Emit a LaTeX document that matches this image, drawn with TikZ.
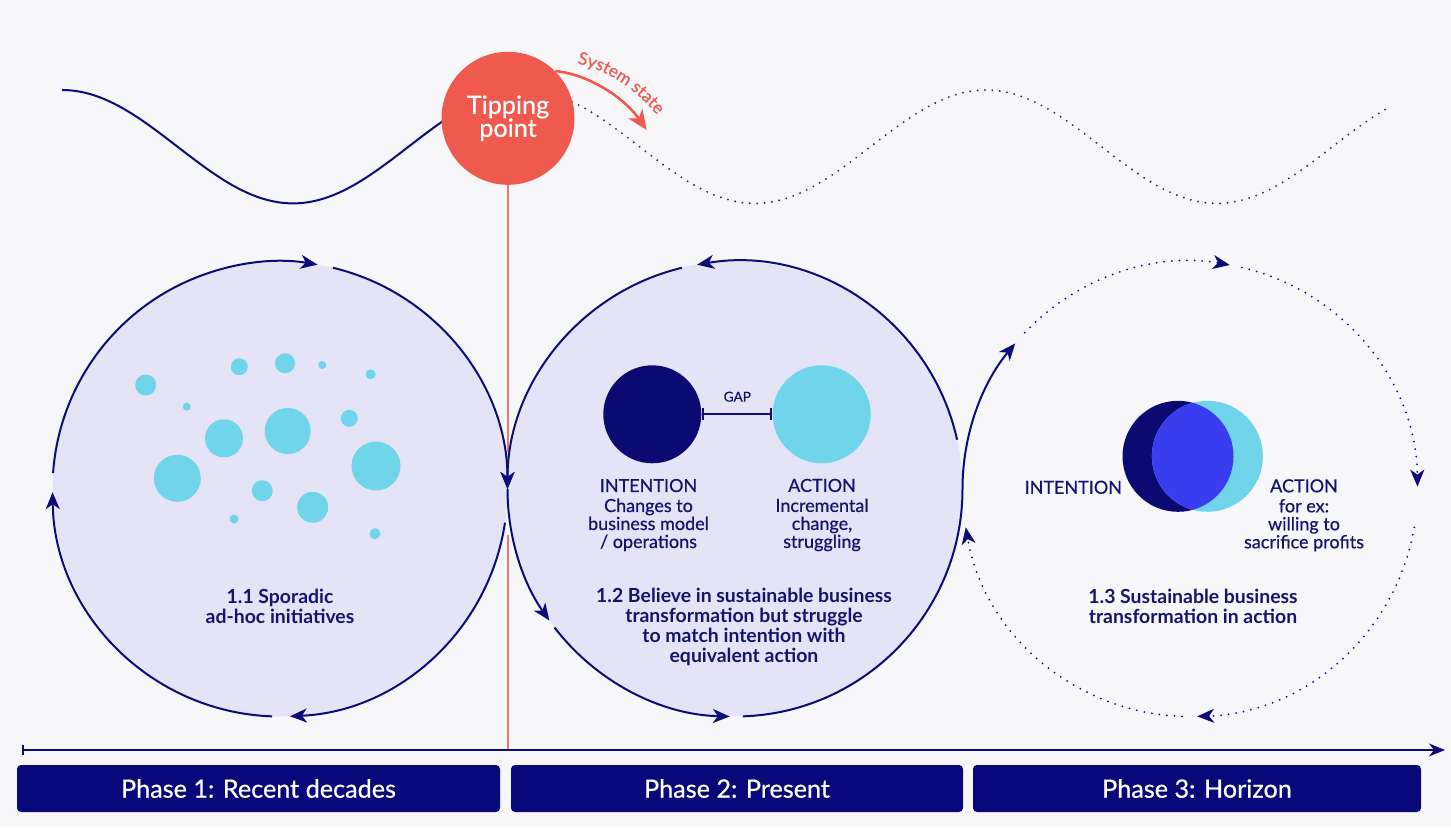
\documentclass[tikz,border=0pt]{standalone}
\usepackage{fontspec}
\setmainfont{Lato}
\newfontfamily\medfont{Lato}[FakeBold=0.6]
\usetikzlibrary{arrows.meta,decorations.text}
\definecolor{bg}{HTML}{F7F7FA}
\definecolor{lav}{HTML}{E4E4F6}
\definecolor{navy}{HTML}{0C0C78}
\definecolor{txtnavy}{HTML}{14146E}
\definecolor{barnavy}{HTML}{08087A}
\definecolor{cyanb}{HTML}{70D4EA}
\definecolor{darkint}{HTML}{0A0A72}
\definecolor{lensblue}{HTML}{3A3CEF}
\definecolor{tipred}{HTML}{F05A4E}
\definecolor{linered}{HTML}{EA7A6C}
\definecolor{dotnavy}{HTML}{2A2A60}
\tikzset{
  loopline/.style={navy, line width=1pt},
  looparrow/.style={navy, line width=1pt, -{Stealth[length=8.5pt,width=7pt,inset=2.5pt]}},
  dotarrow/.style={navy, line width=1pt, line cap=round, dash pattern=on 0pt off 3.8pt, -{Stealth[length=8.5pt,width=7pt,inset=2.5pt]}},
  wavedots/.style={dotnavy, line width=1.05pt, line cap=round, dash pattern=on 0pt off 3.7pt},
  title/.style={text=txtnavy, align=center, font=\bfseries\fontsize{9.7}{10}\selectfont},
  label/.style={text=txtnavy, align=center, font=\medfont\fontsize{9}{9}\selectfont},
  phase/.style={fill=barnavy, rounded corners=2pt, text=white, inner sep=0pt, minimum height=23.5pt, font=\medfont\fontsize{12.6}{14}\selectfont},
  blob/.style={circle, inner sep=0pt},
}
\begin{document}
\begin{tikzpicture}[x=0.5pt,y=0.5pt]
\useasboundingbox (0,0) rectangle (1451,827);
\fill[bg] (0,0) rectangle (1451,827);

% centres
\coordinate (c1) at (280,338);
\coordinate (c2) at (735,338);
\coordinate (c3) at (1190,338);

% big circle fills
\fill[lav] (c1) circle[radius=227.5];
\fill[lav] (c2) circle[radius=227.5];

% sporadic dots
\foreach \px/\py/\r in {145.7/442/10.5, 239.3/460.3/8.5, 285/463.7/10, 322.3/462/4,
  370.7/452.7/5, 186.7/420.3/4, 349.3/408.7/8.5, 224/388.7/19, 287.7/396/23,
  376/361/24.5, 177.3/348.7/23.5, 262.3/336.3/10.5, 312.7/319.7/15.5, 234/308/4.5, 375/293.3/5.5}
  \fill[cyanb] (\px,\py) circle[radius=\r];

% top wave
\draw[navy, line width=1pt] plot[domain=62:445, samples=90, smooth] (\x,{680.3+56.7*cos((\x-62)/231*180)});
\draw[wavedots] plot[domain=572:1390, samples=160, smooth] (\x,{680.3+56.7*cos((\x-62)/231*180)});

% tipping point
\node[circle, fill=tipred, minimum size=66.5pt, inner sep=0pt, text=white, align=center,
  font=\medfont\fontsize{12.6}{11.5}\selectfont] (tip) at (508,708.7) {Tipping\\point};
\coordinate (ss1) at (646.7,697);
\draw[tipred, line width=1.3pt, -{Stealth[length=10pt,width=8.5pt,inset=3pt]}]
  (tip.45) .. controls (592,752) and (626,727) .. (ss1);
\coordinate (sstA) at (566,765);
\coordinate (sstB) at (664,703);
\path[decorate, decoration={text along path, text align=center,
  text={|\medfont\fontsize{8.6}{9}\selectfont\color{tipred}|System state}}]
  (sstA) .. controls (604,762) and (640,736) .. (sstB);

% red vertical line (interrupted at the crossing)
\coordinate (rgapT) at (508,375);
\coordinate (rgapB) at (508,292);
\coordinate (raxis) at (508,77);
\draw[linered, line width=1pt] (tip.south) -- (rgapT);
\draw[linered, line width=1pt] (rgapB) -- (raxis);

% circle 1 (clockwise)
\draw[looparrow] (c1) ++(176:227.5) arc[start angle=176, end angle=80.5, radius=227.5];
\draw[looparrow] (c1) ++(76.5:227.5) arc[start angle=76.5, end angle=0, radius=227.5];
\draw[looparrow] (c1) ++(-8.5:227.5) arc[start angle=-8.5, end angle=-87.5, radius=227.5];
\draw[looparrow] (c1) ++(-92:227.5) arc[start angle=-92, end angle=-179.2, radius=227.5];

% circle 2 (counter-clockwise)
\draw[looparrow] (c2) ++(12.5:227.5) arc[start angle=12.5, end angle=99.6, radius=227.5];
\draw[looparrow] (c2) ++(103.5:227.5) arc[start angle=103.5, end angle=180, radius=227.5];
\draw[looparrow] (c2) ++(180:227.5) arc[start angle=180, end angle=215.3, radius=227.5];
\draw[looparrow] (c2) ++(217.5:227.5) arc[start angle=217.5, end angle=268.7, radius=227.5];
\draw[looparrow] (c2) ++(272:227.5) arc[start angle=272, end angle=360, radius=227.5]
  arc[start angle=180, end angle=140.2, radius=227.5];

% circle 3 (dotted, clockwise)
\draw[dotarrow] (c3) ++(136.6:227.5) arc[start angle=136.6, end angle=79.9, radius=227.5];
\draw[dotarrow] (c3) ++(76.8:227.5) arc[start angle=76.8, end angle=0.6, radius=227.5];
\draw[dotarrow] (c3) ++(-9.7:227.5) arc[start angle=-9.7, end angle=-88.2, radius=227.5];
\draw[dotarrow] (c3) ++(-92:227.5) arc[start angle=-92, end angle=-170.3, radius=227.5];

% texts circle 1
\node[title] (t1) at (280,220.3) {1.1 Sporadic\\ad-hoc initiatives};

% circle 2 content
\node[blob, fill=darkint, minimum size=49pt] (int2) at (652.3,412.7) {};
\node[blob, fill=cyanb, minimum size=49pt] (act2) at (821.7,412.7) {};
\draw[navy, line width=1pt, {Bar[width=6pt]}-{Bar[width=6pt]}] (int2.east) -- (act2.west);
\node[text=txtnavy, font=\medfont\fontsize{6.8}{7}\selectfont] (gap) at (737.3,430.3) {GAP};
\node[label] (int2txt) at (648.5,312) {INTENTION\\[1pt]Changes to\\business model\\/ operations};
\node[label] (act2txt) at (822,312) {ACTION\\[1pt]Incremental\\change,\\struggling};
\node[title] (t2) at (744,200.3) {1.2 Believe in sustainable business\\transformation but struggle\\to match intention with\\equivalent action};

% circle 3 content
\node[blob, fill=darkint, minimum size=55.5pt] (int3) at (1178,370.7) {};
\node[blob, fill=cyanb, minimum size=55.5pt] (act3) at (1207.4,370.7) {};
\begin{scope}
  \clip (int3.center) circle[radius=55.5];
  \fill[lensblue] (act3.center) circle[radius=55.5];
\end{scope}
\node[label] (int3txt) at (1073.3,339.7) {INTENTION};
\node[label] (act3txt) at (1304,311.7) {ACTION\\[1pt]for ex:\\willing to\\sacrifice profits};
\node[title] (t3) at (1193,220.3) {1.3 Sustainable business\\transformation in action};

% time axis
\coordinate (axL) at (22,77);
\coordinate (axR) at (1445,77);
\draw[navy, line width=1pt, {Bar[width=5pt]}-{Stealth[length=8pt,width=6.5pt,inset=2.5pt]}] (axL) -- (axR);

% phase bars
\node[phase, minimum width=241.5pt] (p1) at (258.5,38.5) {Phase 1: Recent decades};
\node[phase, minimum width=226pt] (p2) at (737,38.5) {Phase 2: Present};
\node[phase, minimum width=224pt] (p3) at (1197,38.5) {Phase 3: Horizon};
\end{tikzpicture}
\end{document}
